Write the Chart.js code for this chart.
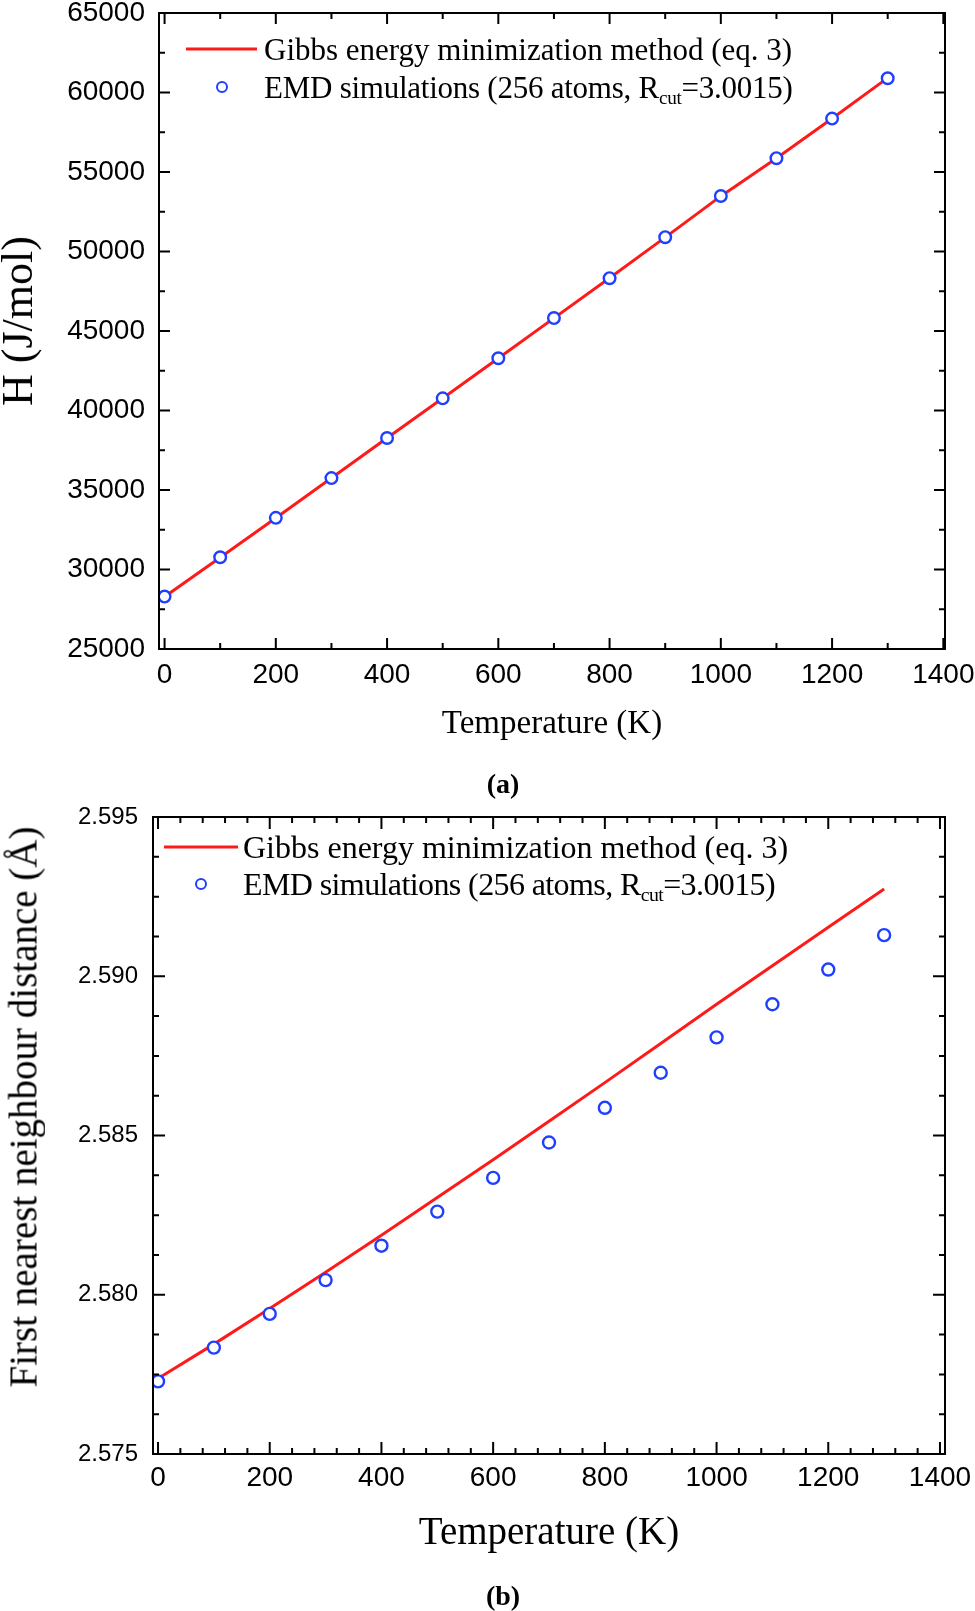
<!DOCTYPE html>
<html>
<head>
<meta charset="utf-8">
<script src="https://cdn.jsdelivr.net/npm/chart.js@4.4.1/dist/chart.umd.min.js"></script>
<style>
  body { margin: 0; background: #fff; }
  #page { position: relative; width: 975px; height: 1611px; overflow: hidden; background: #fff; }
  canvas { position: absolute; left: 0; }
  .txt { position: absolute; font-family: "Liberation Serif", "Times New Roman", serif; color: #000;
         white-space: nowrap; line-height: 1; transform: translateY(-50%); }
  .txt sub { font-size: 0.62em; position: relative; top: 0.3em; vertical-align: baseline; }
  .ytitle { position: absolute; font-family: "Liberation Serif", "Times New Roman", serif; color: #000;
            white-space: nowrap; line-height: 1; transform: translate(-50%, -50%) rotate(-90deg); }
  .sample-line { position: absolute; height: 3px; background: #ff1a1a; transform: translateY(-50%); }
  .sample-dot { position: absolute; width: 8px; height: 8px; border: 2.4px solid #1f3fff; border-radius: 50%;
                background: #fff; transform: translate(-50%, -50%); }
  .cap { position: absolute; font-family: "Liberation Serif", "Times New Roman", serif; font-weight: bold;
         font-size: 28px; line-height: 1; transform: translate(-50%, -50%); }
</style>
</head>
<body>
<div id="page">
  <canvas id="chartH" width="975" height="770" style="top:0"></canvas>
  <canvas id="chartD" width="975" height="821" style="top:790px"></canvas>

  <!-- panel (a) texts -->
  <div class="ytitle" id="yTitleA" style="left:18px; top:321px; font-size:44px"></div>
  <div class="sample-line" style="left:186px; top:49px; width:71px"></div>
  <div class="txt" id="legA1" style="left:264px; top:49px; font-size:31px"></div>
  <div class="sample-dot" style="left:222px; top:87px"></div>
  <div class="txt" id="legA2" style="left:264px; top:87px; font-size:31px; letter-spacing:-0.25px"></div>
  <div class="cap" style="left:503px; top:784px">(a)</div>

  <!-- panel (b) texts -->
  <div class="ytitle" id="yTitleB" style="left:23px; top:1107px; font-size:39px"></div>
  <div class="sample-line" style="left:164px; top:847px; width:74px"></div>
  <div class="txt" id="legB1" style="left:243px; top:847px; font-size:32px"></div>
  <div class="sample-dot" style="left:201px; top:884px"></div>
  <div class="txt" id="legB2" style="left:243px; top:884px; font-size:32px; letter-spacing:-0.6px"></div>
  <div class="cap" style="left:503px; top:1596px">(b)</div>
</div>

<script>
// Data
const temps = [0, 100, 200, 300, 400, 500, 600, 700, 800, 900, 1000, 1100, 1200, 1300];

// (a) enthalpy, J/mol
const hModel = [28280, 30760, 33240, 35750, 38270, 40770, 43290, 45810, 48330, 50890, 53480, 55870, 58360, 60920];
const hEmd   = [28300, 30770, 33250, 35750, 38270, 40765, 43285, 45815, 48322, 50900, 53490, 55868, 58360, 60895];

// (b) first nearest neighbour distance, angstrom
const dModel = [2.57737, 2.57845, 2.57957, 2.58071, 2.58187, 2.58305, 2.58424, 2.58545, 2.58666, 2.58789, 2.58912, 2.59033, 2.59154, 2.59274];
const dEmd   = [2.57728, 2.57834, 2.57940, 2.58046, 2.58154, 2.58261, 2.58367, 2.58478, 2.58587, 2.58697, 2.58808, 2.58912, 2.59021, 2.59129];

// Tick labels
const xTicks = [0, 200, 400, 600, 800, 1000, 1200, 1400];
const hTicks = [25000, 30000, 35000, 40000, 45000, 50000, 55000, 60000, 65000];
const dTicks = [2.575, 2.580, 2.585, 2.590, 2.595];

const modelLabel = 'Gibbs energy minimization method (eq. 3)';
const emdLabel = 'EMD simulations (256 atoms, R<sub>cut</sub>=3.0015)';
const hTitle = 'H (J/mol)';
const dTitle = 'First nearest neighbour distance (Å)';

const RED = '#ff1a1a';
const BLUE = '#1f3fff';
const SANS = '"Liberation Sans", Arial, sans-serif';
const SERIF = '"Liberation Serif", "Times New Roman", serif';

document.getElementById('legA1').textContent = modelLabel;
document.getElementById('legB1').textContent = modelLabel;
document.getElementById('legA2').innerHTML = emdLabel;
document.getElementById('legB2').innerHTML = emdLabel;
document.getElementById('yTitleA').textContent = hTitle;
document.getElementById('yTitleB').textContent = dTitle;

// Box frame with inward major/minor ticks on all four sides
const frameTicks = {
  id: 'frameTicks',
  afterDraw(chart, args, opts) {
    const { ctx, chartArea: a, scales: { x, y } } = chart;
    ctx.save();
    ctx.strokeStyle = '#000';
    ctx.lineWidth = 2;
    ctx.strokeRect(a.left, a.top, a.right - a.left, a.bottom - a.top);

    const tickSet = (majors, sub) => {
      const out = [];
      majors.forEach((v, i) => {
        out.push({ v, len: opts.major });
        if (i < majors.length - 1) {
          const step = (majors[i + 1] - v) / sub;
          for (let k = 1; k < sub; k++) out.push({ v: v + k * step, len: opts.minor });
        }
      });
      return out;
    };

    ctx.beginPath();
    tickSet(opts.xMajor, opts.xSub).forEach(t => {
      const px = x.getPixelForValue(t.v);
      if (px < a.left || px > a.right) return;
      ctx.moveTo(px, a.bottom); ctx.lineTo(px, a.bottom - t.len);
      ctx.moveTo(px, a.top); ctx.lineTo(px, a.top + t.len);
    });
    tickSet(opts.yMajor, opts.ySub).forEach(t => {
      const py = y.getPixelForValue(t.v);
      ctx.moveTo(a.left, py); ctx.lineTo(a.left + t.len, py);
      ctx.moveTo(a.right, py); ctx.lineTo(a.right - t.len, py);
    });
    ctx.stroke();
    ctx.restore();
  }
};

// keep the label overflow from pushing the plot area around
function noPad(s) {
  s.paddingTop = 0; s.paddingBottom = 0; s.paddingLeft = 0; s.paddingRight = 0;
}

function makePanel(id, p) {
  const ctx = document.getElementById(id).getContext('2d');
  return new Chart(ctx, {
    type: 'scatter',
    data: {
      datasets: [
        {
          label: 'EMD',
          data: temps.map((t, i) => ({ x: t, y: p.emd[i] })),
          showLine: false,
          pointStyle: 'circle',
          pointRadius: p.dotR,
          pointBackgroundColor: '#fff',
          pointBorderColor: BLUE,
          pointBorderWidth: 2.4,
          order: 1
        },
        {
          label: 'Model',
          data: temps.map((t, i) => ({ x: t, y: p.model[i] })),
          showLine: true,
          borderColor: RED,
          borderWidth: 3,
          pointRadius: 0,
          tension: 0,
          order: 2
        }
      ]
    },
    options: {
      responsive: false,
      animation: false,
      devicePixelRatio: 1,
      layout: { padding: p.padding },
      plugins: {
        legend: { display: false },
        tooltip: { enabled: false },
        frameTicks: p.frame
      },
      scales: {
        x: {
          type: 'linear',
          min: p.xMin, max: p.xMax,
          afterBuildTicks: s => { s.ticks = xTicks.map(v => ({ value: v })); },
          afterFit: s => { s.height = p.xHeight; noPad(s); },
          grid: { display: false, drawTicks: false },
          border: { display: false },
          ticks: {
            padding: p.xTickPad, color: '#000', maxRotation: 0, autoSkip: false,
            font: { family: SANS, size: p.xTickSize },
            callback: v => String(v)
          },
          title: {
            display: true, text: 'Temperature (K)', color: '#000',
            font: { family: SERIF, size: p.xTitleSize, lineHeight: 1 },
            padding: { top: 0, bottom: p.xTitlePad }
          }
        },
        y: {
          type: 'linear',
          min: p.yTicks[0], max: p.yTicks[p.yTicks.length - 1],
          afterBuildTicks: s => { s.ticks = p.yTicks.map(v => ({ value: v })); },
          afterFit: s => { s.width = p.yWidth; noPad(s); },
          grid: { display: false, drawTicks: false },
          border: { display: false },
          ticks: {
            padding: p.yTickPad, color: '#000', autoSkip: false,
            font: { family: SANS, size: p.yTickSize, lineHeight: 1 },
            callback: p.yFmt
          }
        }
      }
    },
    plugins: [frameTicks]
  });
}

makePanel('chartH', {
  model: hModel, emd: hEmd, yTicks: hTicks,
  yFmt: v => String(v),
  xMin: -10, xMax: 1403,
  padding: { top: 13, right: 30, left: 0, bottom: 0 },
  xHeight: 121, yWidth: 159,
  xTickPad: 9, xTickSize: 28, yTickPad: 14, yTickSize: 28,
  xTitleSize: 33, xTitlePad: 29,
  dotR: 5.8,
  frame: { xMajor: xTicks, xSub: 2, yMajor: hTicks, ySub: 2, major: 11, minor: 6 }
});

makePanel('chartD', {
  model: dModel, emd: dEmd, yTicks: dTicks,
  yFmt: v => v.toFixed(3),
  xMin: -9, xMax: 1409,
  padding: { top: 27, right: 30, left: 0, bottom: 0 },
  xHeight: 157, yWidth: 153,
  xTickPad: 7, xTickSize: 28, yTickPad: 15, yTickSize: 24,
  xTitleSize: 39, xTitlePad: 58,
  dotR: 6,
  frame: { xMajor: xTicks, xSub: 5, yMajor: dTicks, ySub: 4, major: 12, minor: 6 }
});
</script>
</body>
</html>
